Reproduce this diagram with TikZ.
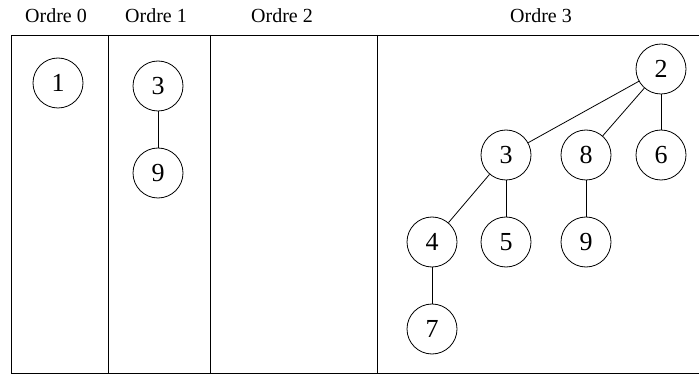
\documentclass[tikz,border=0pt]{standalone}
\usepackage{fontspec}
\setmainfont{Liberation Serif}
\begin{document}
\begin{tikzpicture}[x=1pt,y=-1pt,
  vtx/.style={draw,circle,minimum size=50pt,inner sep=0pt,line width=0.8pt,font=\fontsize{26}{28}\selectfont},
  hdr/.style={font=\fontsize{20}{22}\selectfont,inner sep=0pt},
  rule/.style={line width=0.9pt},
  edge/.style={line width=0.8pt}]
\useasboundingbox (0,0) rectangle (699,374);
% frame
\coordinate (tl) at (11.5,35);
\coordinate (tr) at (699,35);
\coordinate (bl) at (11.5,373);
\coordinate (br) at (699,373);
\draw[rule] (tr) -- (tl) -- (bl) -- (br);
\coordinate (a1) at (108.5,35); \coordinate (a2) at (108.5,373);
\coordinate (b1) at (210.5,35); \coordinate (b2) at (210.5,373);
\coordinate (c1) at (377,35); \coordinate (c2) at (377,373);
\draw[rule] (a1) -- (a2);
\draw[rule] (b1) -- (b2);
\draw[rule] (c1) -- (c2);
% headers
\node[hdr] (h0) at (56,16) {Ordre 0};
\node[hdr] (h1) at (156,16) {Ordre 1};
\node[hdr] (h2) at (282,16) {Ordre 2};
\node[hdr] (h3) at (541,16) {Ordre 3};
% order 0
\node[vtx] (n1) at (58,83) {1};
% order 1
\node[vtx] (m3) at (158,86) {3};
\node[vtx] (m9) at (158,173) {9};
\draw[edge] (m3) -- (m9);
% order 3
\node[vtx] (t2) at (661,69) {2};
\node[vtx] (t3) at (506,155) {3};
\node[vtx] (t8) at (586,155) {8};
\node[vtx] (t6) at (661,155) {6};
\node[vtx] (t4) at (432,242) {4};
\node[vtx] (t5) at (506,242) {5};
\node[vtx] (t9) at (586,242) {9};
\node[vtx] (t7) at (432,329) {7};
\draw[edge] (t2) -- (t3);
\draw[edge] (t2) -- (t8);
\draw[edge] (t2) -- (t6);
\draw[edge] (t3) -- (t4);
\draw[edge] (t3) -- (t5);
\draw[edge] (t8) -- (t9);
\draw[edge] (t4) -- (t7);
\end{tikzpicture}
\end{document}
